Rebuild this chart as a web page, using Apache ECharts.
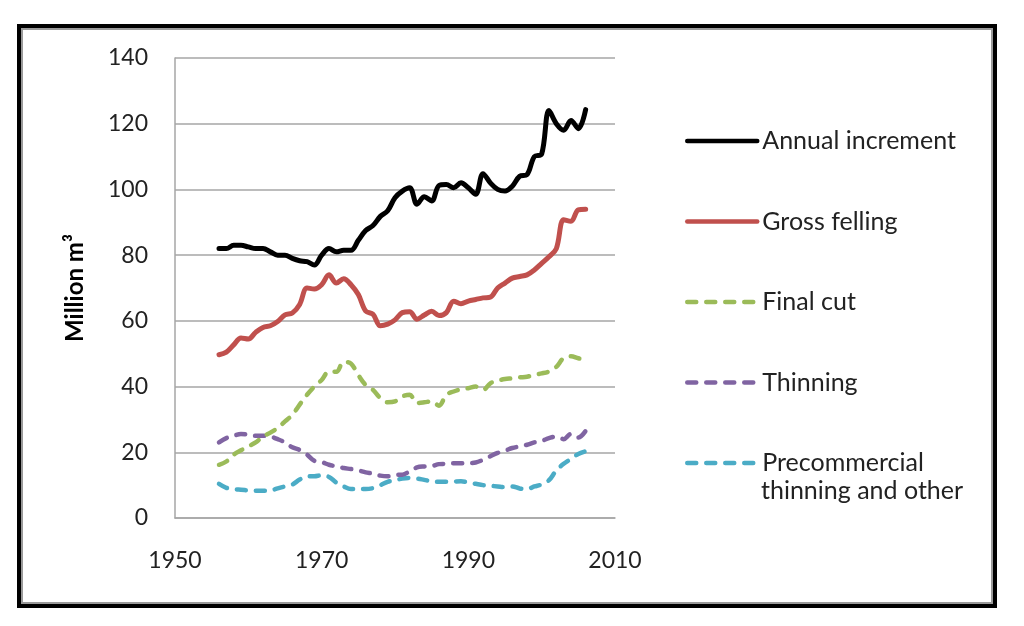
<!DOCTYPE html>
<html>
<head>
<meta charset="utf-8">
<title>Annual increment and felling</title>
<script src="https://cdn.jsdelivr.net/npm/echarts@6/dist/echarts.min.js"></script>
<style>
    html, body { margin: 0; padding: 0; background: #fff; }
    #chart { width: 1024px; height: 626px; }
</style>
</head>
<body>
<div id="chart"></div>
<script>
// values, one per year 1956-2006
var years = [1956, 1957, 1958, 1959, 1960, 1961, 1962, 1963, 1964, 1965,
    1966, 1967, 1968, 1969, 1970, 1971, 1972, 1973, 1974, 1975,
    1976, 1977, 1978, 1979, 1980, 1981, 1982, 1983, 1984, 1985,
    1986, 1987, 1988, 1989, 1990, 1991, 1992, 1993, 1994, 1995,
    1996, 1997, 1998, 1999, 2000, 2001, 2002, 2003, 2004, 2005, 2006];

var annualIncrement = [82, 82, 83, 83, 82.5, 82, 82, 81, 80, 80,
    79, 78.3, 78, 77, 80, 82, 81, 81.5, 81.5, 84.5,
    87.5, 89, 91.8, 93.5, 97.5, 99.5, 100.5, 95.5, 97.8, 96.5,
    101.2, 101.5, 100.5, 102, 100.5, 98.5, 104.8, 102, 100, 99.5,
    101, 104, 104.5, 110, 110.8, 124, 120, 118, 121, 118.5, 124.3];

var grossFelling = [49.7, 50.5, 52.7, 54.8, 54.5, 56.5, 58, 58.5, 59.8, 61.8,
    62.4, 65, 70, 69.7, 71, 74, 71.5, 72.8, 71, 68,
    63, 62, 58.5, 59, 60.3, 62.5, 62.8, 60.5, 61.8, 62.9,
    61.6, 62.5, 66, 65.2, 66, 66.5, 67, 67.2, 70, 71.5,
    73, 73.5, 74, 75.5, 77.5, 79.5, 82, 90.8, 90.3, 93.8, 94];

var finalCut = [16.2, 17.2, 19.3, 20.6, 21.8, 23, 24.8, 26, 27.4, 29.4,
    31.4, 34.5, 37.5, 40, 42, 44.6, 44.5, 47.5, 47, 43.5,
    40.5, 39, 36.5, 35.2, 35.5, 37, 37.5, 35, 35.2, 35.5,
    34.2, 37.5, 38.5, 39.2, 39.5, 40, 39, 41, 41.8, 42.3,
    42.5, 42.8, 43, 43.6, 44, 44.6, 46, 48.7, 49.2, 48.6, 48.2];

var thinning = [23, 24.3, 25, 25.6, 25.4, 25, 25, 24.8, 24, 23,
    21.5, 20.7, 19.3, 17.4, 17, 16.2, 15.7, 15.2, 14.9, 14.5,
    13.9, 13.5, 12.9, 12.7, 13.2, 13.2, 14.2, 15.4, 15.7, 15.8,
    16.4, 16.5, 16.7, 16.7, 16.7, 16.9, 17.7, 18.8, 19.8, 20.5,
    21.3, 21.8, 22.3, 23, 23.5, 24.3, 24.8, 24, 25.6, 24.5, 26.5];

var precommercial = [10.4, 9.2, 8.8, 8.6, 8.4, 8.3, 8.3, 8.4, 9, 9.6,
    10.2, 11.7, 12.7, 12.7, 13, 12.5, 10.8, 9.6, 8.8, 8.8,
    8.8, 9.1, 10, 11, 11.5, 12, 12.2, 12, 11.6, 11.2,
    11, 11, 11.1, 11.2, 10.8, 10.4, 10, 9.8, 9.6, 9.4,
    9.6, 9, 8.8, 9.6, 10.2, 11.5, 14.5, 16.5, 18, 19.5, 20.3];

var seriesNames = ['Annual increment', 'Gross felling', 'Final cut', 'Thinning', 'Precommercial'];
var yTicks = { min: 0, max: 140, interval: 20 };
var xTicks = { min: 1950, max: 2010, interval: 20 };

var colors = ['#000000', '#c0504d', '#9bbb59', '#8064a2', '#4bacc6'];
var font = 'Lato, "Open Sans", sans-serif';

function pairs(vals) {
    return years.map(function (y, i) { return [y, vals[i]]; });
}

function lineSeries(name, vals, color, dashed) {
    return {
        name: name,
        type: 'line',
        smooth: 0.35,
        symbol: 'none',
        data: pairs(vals),
        lineStyle: {
            color: color,
            width: dashed ? 4.5 : 5,
            type: dashed ? [9, 10] : 'solid',
            cap: 'round',
            join: 'round'
        },
        itemStyle: { color: color }
    };
}

var chart = echarts.init(document.getElementById('chart'));

chart.setOption({
    animation: false,
    backgroundColor: '#ffffff',
    grid: { left: 175, right: 409, top: 58, bottom: 108, containLabel: false },
    xAxis: {
        type: 'value',
        min: xTicks.min, max: xTicks.max, interval: xTicks.interval,
        axisLine: { show: true, lineStyle: { color: '#a6a6a6', width: 1.5 } },
        axisTick: { show: false },
        splitLine: { show: false },
        axisLabel: {
            color: '#222', fontFamily: font, fontSize: 23, margin: 31,
            formatter: function (v) { return String(v); }
        }
    },
    yAxis: {
        type: 'value',
        min: yTicks.min, max: yTicks.max, interval: yTicks.interval,
        name: 'Million m³',
        nameLocation: 'middle',
        nameGap: 88,
        nameTextStyle: { color: '#000', fontFamily: font, fontSize: 24, fontWeight: 'bold' },
        axisLine: { show: true, lineStyle: { color: '#a6a6a6', width: 1.5 } },
        axisTick: { show: false },
        splitLine: { show: true, lineStyle: { color: '#a6a6a6', width: 1.5 } },
        axisLabel: { color: '#222', fontFamily: font, fontSize: 23, margin: 27 }
    },
    legend: {
        orient: 'vertical',
        left: 685,
        top: 127,
        padding: 0,
        itemWidth: 70,
        itemHeight: 14,
        itemGap: 52.5,
        data: seriesNames,
        itemStyle: { opacity: 0 },
        lineStyle: { width: 4.5 },
        textStyle: { color: '#222', fontFamily: font, fontSize: 25, lineHeight: 28 }
    },
    graphic: [
        {
            type: 'rect',
            shape: { x: 19, y: 26, width: 976, height: 580 },
            style: { fill: 'none', stroke: '#000', lineWidth: 4 },
            silent: true
        },
        {
            type: 'rect',
            shape: { x: 22, y: 29, width: 970, height: 574 },
            style: { fill: 'none', stroke: '#9a9a9a', lineWidth: 2 },
            silent: true
        },
        {
            type: 'text',
            left: 761,
            top: 478,
            style: { text: 'thinning and other', fill: '#222', font: '25px ' + font }
        }
    ],
    series: [
        lineSeries(seriesNames[4], precommercial, colors[4], true),
        lineSeries(seriesNames[3], thinning, colors[3], true),
        lineSeries(seriesNames[2], finalCut, colors[2], true),
        lineSeries(seriesNames[1], grossFelling, colors[1], false),
        lineSeries(seriesNames[0], annualIncrement, colors[0], false)
    ]
});
</script>
</body>
</html>
